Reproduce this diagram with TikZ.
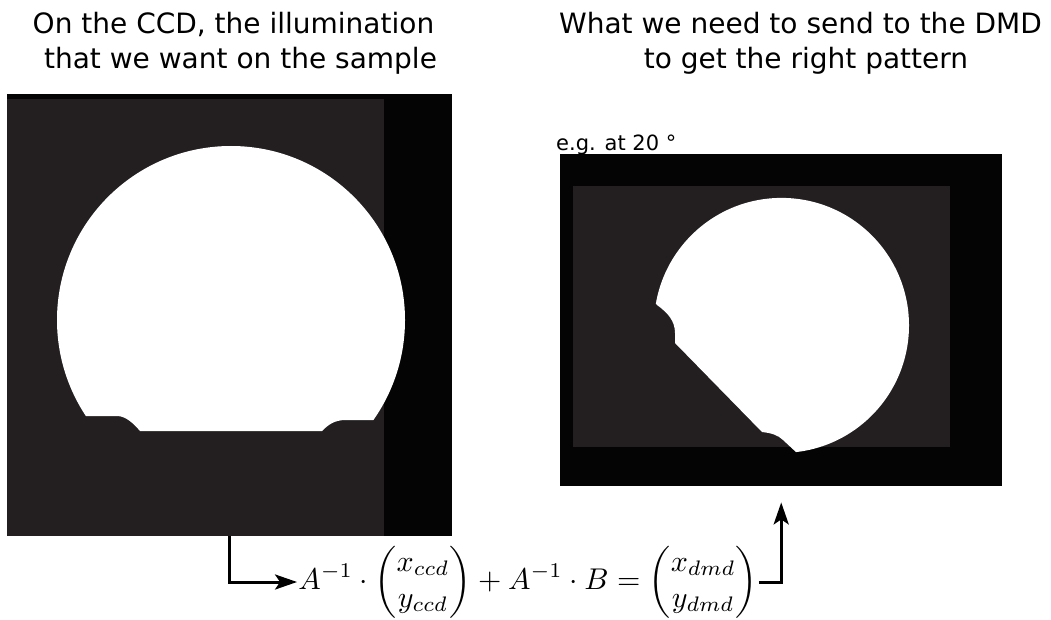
\documentclass[tikz,border=0pt]{standalone}
\usepackage{amsmath}
\usepackage{graphicx}
\usepackage{fontspec}
\newfontfamily\djv{DejaVu Sans}
\usetikzlibrary{arrows.meta}
\definecolor{panelgray}{RGB}{35,31,32}
\definecolor{panelblack}{RGB}{4,4,4}
\begin{document}
\begin{tikzpicture}[x=1pt,y=-1pt,
  title/.style={font=\djv\fontsize{28}{35}\selectfont, anchor=base, inner sep=0pt},
  panel/.style={fill=panelblack, draw=none, inner sep=0pt, anchor=north west},
  conn/.style={line width=3pt, line join=miter, -{Stealth[length=22pt,width=15pt,inset=5pt]}}]
\useasboundingbox[fill=white] (0,0) rectangle (1051,620);

% titles
\node[title] (tl1) at (233.5,34) {On the CCD, the illumination};
\node[title] (tl2) at (240.5,69) {that we want on the sample};
\node[title] (tr1) at (800.5,34) {What we need to send to the DMD};
\node[title] (tr2) at (806,69) {to get the right pattern};

% left panel (CCD)
\node[panel, minimum width=445pt, minimum height=442pt] (ccd) at (7,94) {};
\fill[panelgray] (7,99) rectangle (384,536);
\begin{scope}
  \clip (40,100) -- (40,416) -- (117,416) .. controls (126,416) and (134,424) .. (140,431)
        -- (322,431) .. controls (328,425) and (334,420) .. (346,420)
        -- (430,420) -- (430,100) -- cycle;
  \fill[white] (231,320) circle[radius=174];
\end{scope}

% right panel (DMD)
\node[font=\djv\fontsize{21}{25}\selectfont, anchor=base west, inner sep=0pt] (eg) at (556,151) {e.g. at 20 °};
\node[panel, minimum width=442pt, minimum height=332pt] (dmd) at (560,154) {};
\fill[panelgray] (573,186) rectangle (950,447);
\begin{scope}
  \clip (640,284) -- (657,305) .. controls (668,313) and (675,321) .. (675,333)
        -- (675,343) -- (762,432) .. controls (771,433) and (778,435) .. (783,440)
        -- (797,453) -- (830,486) -- (960,486) -- (960,150) -- (640,150) -- cycle;
  \fill[white] (781.5,325.4) circle[radius=127.5];
\end{scope}

% formula
\node[inner sep=1pt] (eq) at (528,582)
  {\scalebox{3.0}{$\displaystyle A^{-1}\cdot\begin{pmatrix}x_{ccd}\\ y_{ccd}\end{pmatrix}+A^{-1}\cdot B=\begin{pmatrix}x_{dmd}\\ y_{dmd}\end{pmatrix}$}};

% connectors
\draw[conn] (ccd.south) |- (eq.west);
\draw[conn] (eq.east) -| ([yshift=-16pt]dmd.south);
\end{tikzpicture}
\end{document}
